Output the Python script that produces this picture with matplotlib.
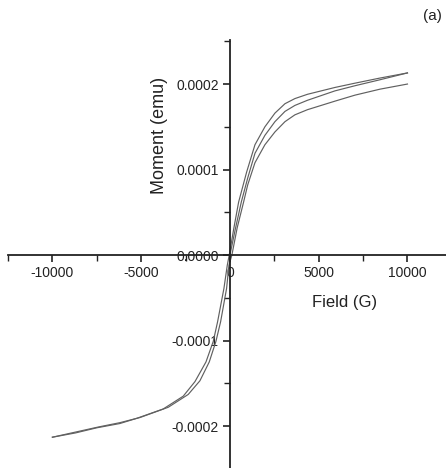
import numpy as np
import matplotlib.pyplot as plt
from matplotlib.ticker import MultipleLocator, FormatStrFormatter

plt.rcParams['font.family'] = ['Liberation Sans', 'DejaVu Sans']
plt.rcParams['axes.unicode_minus'] = False

# virgin curve, 0 -> +10 kG  (moment in 1e-4 emu)
virgin_field = [0, 300, 640, 1000, 1410, 1970, 2535, 3100, 3660, 4366,
                5915, 7040, 8450, 10000]
virgin_moment = [0.0, 0.30, 0.62, 0.90, 1.19, 1.40, 1.56, 1.68, 1.75, 1.81,
                 1.92, 1.98, 2.05, 2.13]

# descending branch, +10 kG -> -10 kG
desc_field = [10000, 8450, 7040, 5915, 4366, 3660, 3100, 2535, 1970, 1410,
              940, 490, 225, -40, -150, -338, -695, -940, -1350, -1970,
              -2630, -3760, -5260, -6200, -7500, -8700, -10000]
desc_moment = [2.13, 2.07, 2.01, 1.96, 1.88, 1.83, 1.77, 1.66, 1.50, 1.29,
               0.97, 0.62, 0.32, 0.0, -0.12, -0.39, -0.78, -1.01, -1.25, -1.48,
               -1.65, -1.80, -1.91, -1.97, -2.02, -2.08, -2.13]

# ascending branch, -10 kG -> +10 kG
asc_field = [-10000, -8700, -7400, -6200, -5070, -3475, -2350, -1690, -1165,
             -790, -525, -188, -56, 110, 410, 770, 1000, 1410, 1970, 2535,
             3100, 3660, 4366, 5915, 7040, 8450, 10000]
asc_moment = [-2.13, -2.07, -2.01, -1.96, -1.90, -1.78, -1.63, -1.47, -1.25,
              -1.01, -0.78, -0.39, -0.12, 0.0, 0.32, 0.62, 0.82, 1.08, 1.29,
              1.44, 1.56, 1.64, 1.70, 1.80, 1.87, 1.94, 2.00]

x_ticks = [-10000, -5000, 0, 5000, 10000]
y_ticks = [-0.0002, -0.0001, 0.0, 0.0001, 0.0002]

fig = plt.figure(figsize=(4.46, 4.68), dpi=100)
ax = fig.add_axes([8 / 446, 0.0, 438 / 446, 428 / 468])

line_kw = dict(color='#606060', lw=0.85)
for fld, mom in [(virgin_field, virgin_moment),
                 (desc_field, desc_moment),
                 (asc_field, asc_moment)]:
    ax.plot(fld, np.array(mom) * 1e-4, **line_kw)

ax.set_xlim(-12500, 12170)
ax.set_ylim(-2.49e-4, 2.515e-4)

# axes crossing at the origin
ax.spines['left'].set_position(('data', 0))
ax.spines['bottom'].set_position(('data', 0))
ax.spines['top'].set_visible(False)
ax.spines['right'].set_visible(False)
for s in ('left', 'bottom'):
    ax.spines[s].set_linewidth(1.3)
    ax.spines[s].set_color('#222222')

ax.set_xticks(x_ticks)
ax.set_yticks(y_ticks)
ax.xaxis.set_minor_locator(MultipleLocator(2500))
ax.yaxis.set_minor_locator(MultipleLocator(0.00005))
ax.yaxis.set_major_formatter(FormatStrFormatter('%.4f'))
ax.tick_params(which='major', direction='out', length=5, width=1.2,
               labelsize=10, pad=3, colors='#222222')
ax.tick_params(which='minor', direction='out', length=4, width=1.0,
               colors='#222222')

fig.text(345 / 446, 1 - 302 / 468, 'Field (G)', fontsize=12,
         ha='center', va='center', color='#222222')
fig.text(160 / 446, 1 - 135 / 468, 'Moment (emu)', fontsize=13,
         rotation=90, ha='center', va='center', color='#222222')
fig.text(432 / 446, 1 - 16 / 468, '(a)', fontsize=11,
         ha='center', va='center', color='#222222')

fig.savefig('out.png', dpi=100)
